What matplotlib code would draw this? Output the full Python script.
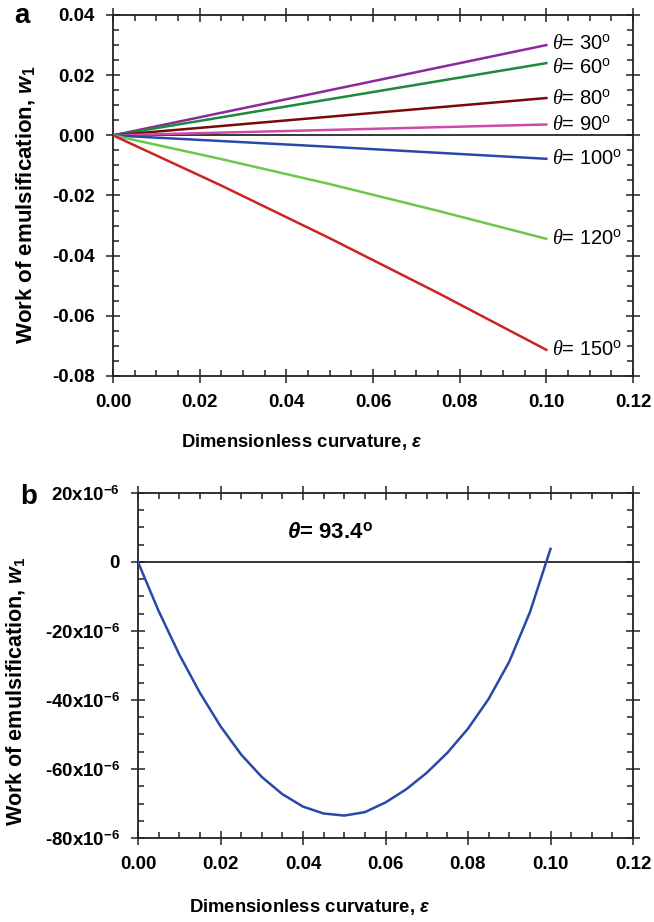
import matplotlib
matplotlib.use('Agg')
import matplotlib.pyplot as plt
from matplotlib.ticker import MultipleLocator, FuncFormatter

plt.rcParams['font.family'] = ['Liberation Sans', 'DejaVu Sans']
plt.rcParams['mathtext.fontset'] = 'custom'
plt.rcParams['mathtext.rm'] = 'Liberation Sans'
plt.rcParams['mathtext.bf'] = 'Liberation Sans:bold'
plt.rcParams['mathtext.it'] = 'Liberation Serif:italic'
plt.rcParams['mathtext.bfit'] = 'Liberation Sans:bold:italic'

# ---------------- panel a data ----------------
eps_a = [0.0, 0.025, 0.05, 0.075, 0.10]
angles = ['30', '60', '80', '90', '100', '120', '150']
w_30 = [0.0, 0.0075, 0.0150, 0.0225, 0.0300]
w_60 = [0.0, 0.0060, 0.0120, 0.0180, 0.0240]
w_80 = [0.0, 0.0031, 0.0062, 0.0093, 0.0124]
w_90 = [0.0, 0.0009, 0.0018, 0.0027, 0.0036]
w_100 = [0.0, -0.0019, -0.0038, -0.0058, -0.0078]
w_120 = [0.0, -0.0079, -0.0162, -0.0251, -0.0344]
w_150 = [0.0, -0.0167, -0.0342, -0.0524, -0.0713]
series_a = [w_30, w_60, w_80, w_90, w_100, w_120, w_150]
colors_a = ['#8a2a9c', '#1e8a3c', '#7a0a0a', '#cc4aaa', '#2a48a8', '#6cc84a', '#cc2424']
label_dy = [1, -3, 0, 0, 0, 0, 0]

# ---------------- panel b data ----------------
eps_b = [0.0, 0.005, 0.01, 0.015, 0.02, 0.025, 0.03, 0.035, 0.04, 0.045, 0.05,
         0.055, 0.06, 0.065, 0.07, 0.075, 0.08, 0.085, 0.09, 0.095, 0.10]
w_b = [0.0, -14.2, -26.8, -37.9, -47.6, -55.8, -62.3, -67.3, -70.9, -72.9, -73.5,
       -72.5, -69.7, -65.9, -61.1, -55.3, -48.3, -39.7, -28.9, -14.6, 3.8]
w_b = [v * 1e-6 for v in w_b]

W, H = 654, 922
fig = plt.figure(figsize=(W / 100, H / 100), dpi=100)


def style_axes(ax):
    for s in ax.spines.values():
        s.set_linewidth(1.3)
        s.set_color('#222222')
    ax.tick_params(which='both', top=True, right=True, color='#222222',
                   labelsize=13.5, width=1.1)
    ax.tick_params(which='major', direction='inout', length=10, pad=8)
    ax.tick_params(which='minor', direction='in', length=4)
    for lab in ax.get_xticklabels() + ax.get_yticklabels():
        lab.set_fontweight('bold')
    ax.axhline(0, color='black', lw=1.1, zorder=1)


# ---------------- panel a ----------------
ax1 = fig.add_axes([113 / W, 1 - 376 / H, 520 / W, 361 / H])
for w, c in zip(series_a, colors_a):
    ax1.plot(eps_a, w, color=c, lw=1.8, zorder=3)
for ang, w, dy in zip(angles, series_a, label_dy):
    ax1.annotate(r'$\theta$= ' + ang + r'$^{\rm o}$', xy=(eps_a[-1], w[-1]),
                 xytext=(4, dy), textcoords='offset points', va='center',
                 ha='left', fontsize=14.5)
ax1.set_xlim(0, 0.12)
ax1.set_ylim(-0.08, 0.04)
ax1.xaxis.set_major_locator(MultipleLocator(0.02))
ax1.xaxis.set_minor_locator(MultipleLocator(0.005))
ax1.yaxis.set_major_locator(MultipleLocator(0.02))
ax1.yaxis.set_minor_locator(MultipleLocator(0.005))
ax1.xaxis.set_major_formatter(FuncFormatter(lambda v, p: f'{v:.2f}'))
ax1.yaxis.set_major_formatter(FuncFormatter(lambda v, p: f'{v:.2f}'))
style_axes(ax1)
ax1.set_xlabel(r'Dimensionless curvature, $\mathbfit{\epsilon}$', fontsize=13.3,
               fontweight='bold')
ax1.xaxis.set_label_coords(0.363, -0.155)
ax1.set_ylabel(r'Work of emulsification, $\mathbfit{w}_{\mathbf{1}}$', fontsize=16,
               fontweight='bold')
ax1.yaxis.set_label_coords(-0.147, 0.476)
fig.text(14 / W, 1 - 16 / H, 'a', fontsize=20, fontweight='bold', va='center')

# ---------------- panel b ----------------
ax2 = fig.add_axes([138 / W, 1 - 838 / H, 495 / W, 345 / H])
ax2.plot(eps_b, w_b, color='#2a48a8', lw=1.8, zorder=3)
ax2.text(0.0465, 8.6e-6, r'$\mathbfit{\theta}$= 93.4$^{\mathbf{o}}$', fontsize=16,
         fontweight='bold', ha='center', va='center')
ax2.set_xlim(0, 0.12)
ax2.set_ylim(-80e-6, 20e-6)
ax2.xaxis.set_major_locator(MultipleLocator(0.02))
ax2.xaxis.set_minor_locator(MultipleLocator(0.005))
ax2.yaxis.set_major_locator(MultipleLocator(20e-6))
ax2.yaxis.set_minor_locator(MultipleLocator(5e-6))
ax2.xaxis.set_major_formatter(FuncFormatter(lambda v, p: f'{v:.2f}'))


def fmt_b(v, p):
    n = int(round(v * 1e6))
    if n == 0:
        return '0'
    return f'{n}x10' + r'$^{\mathbf{-6}}$'


ax2.yaxis.set_major_formatter(FuncFormatter(fmt_b))
style_axes(ax2)
ax2.set_xlabel(r'Dimensionless curvature, $\mathbfit{\epsilon}$', fontsize=13.3,
               fontweight='bold')
ax2.xaxis.set_label_coords(0.347, -0.17)
ax2.set_ylabel(r'Work of emulsification, $\mathbfit{w}_{\mathbf{1}}$', fontsize=15.5,
               fontweight='bold')
ax2.yaxis.set_label_coords(-0.225, 0.425)
fig.text(20 / W, 1 - 497 / H, 'b', fontsize=20, fontweight='bold', va='center')

fig.savefig('out.png', dpi=100)
